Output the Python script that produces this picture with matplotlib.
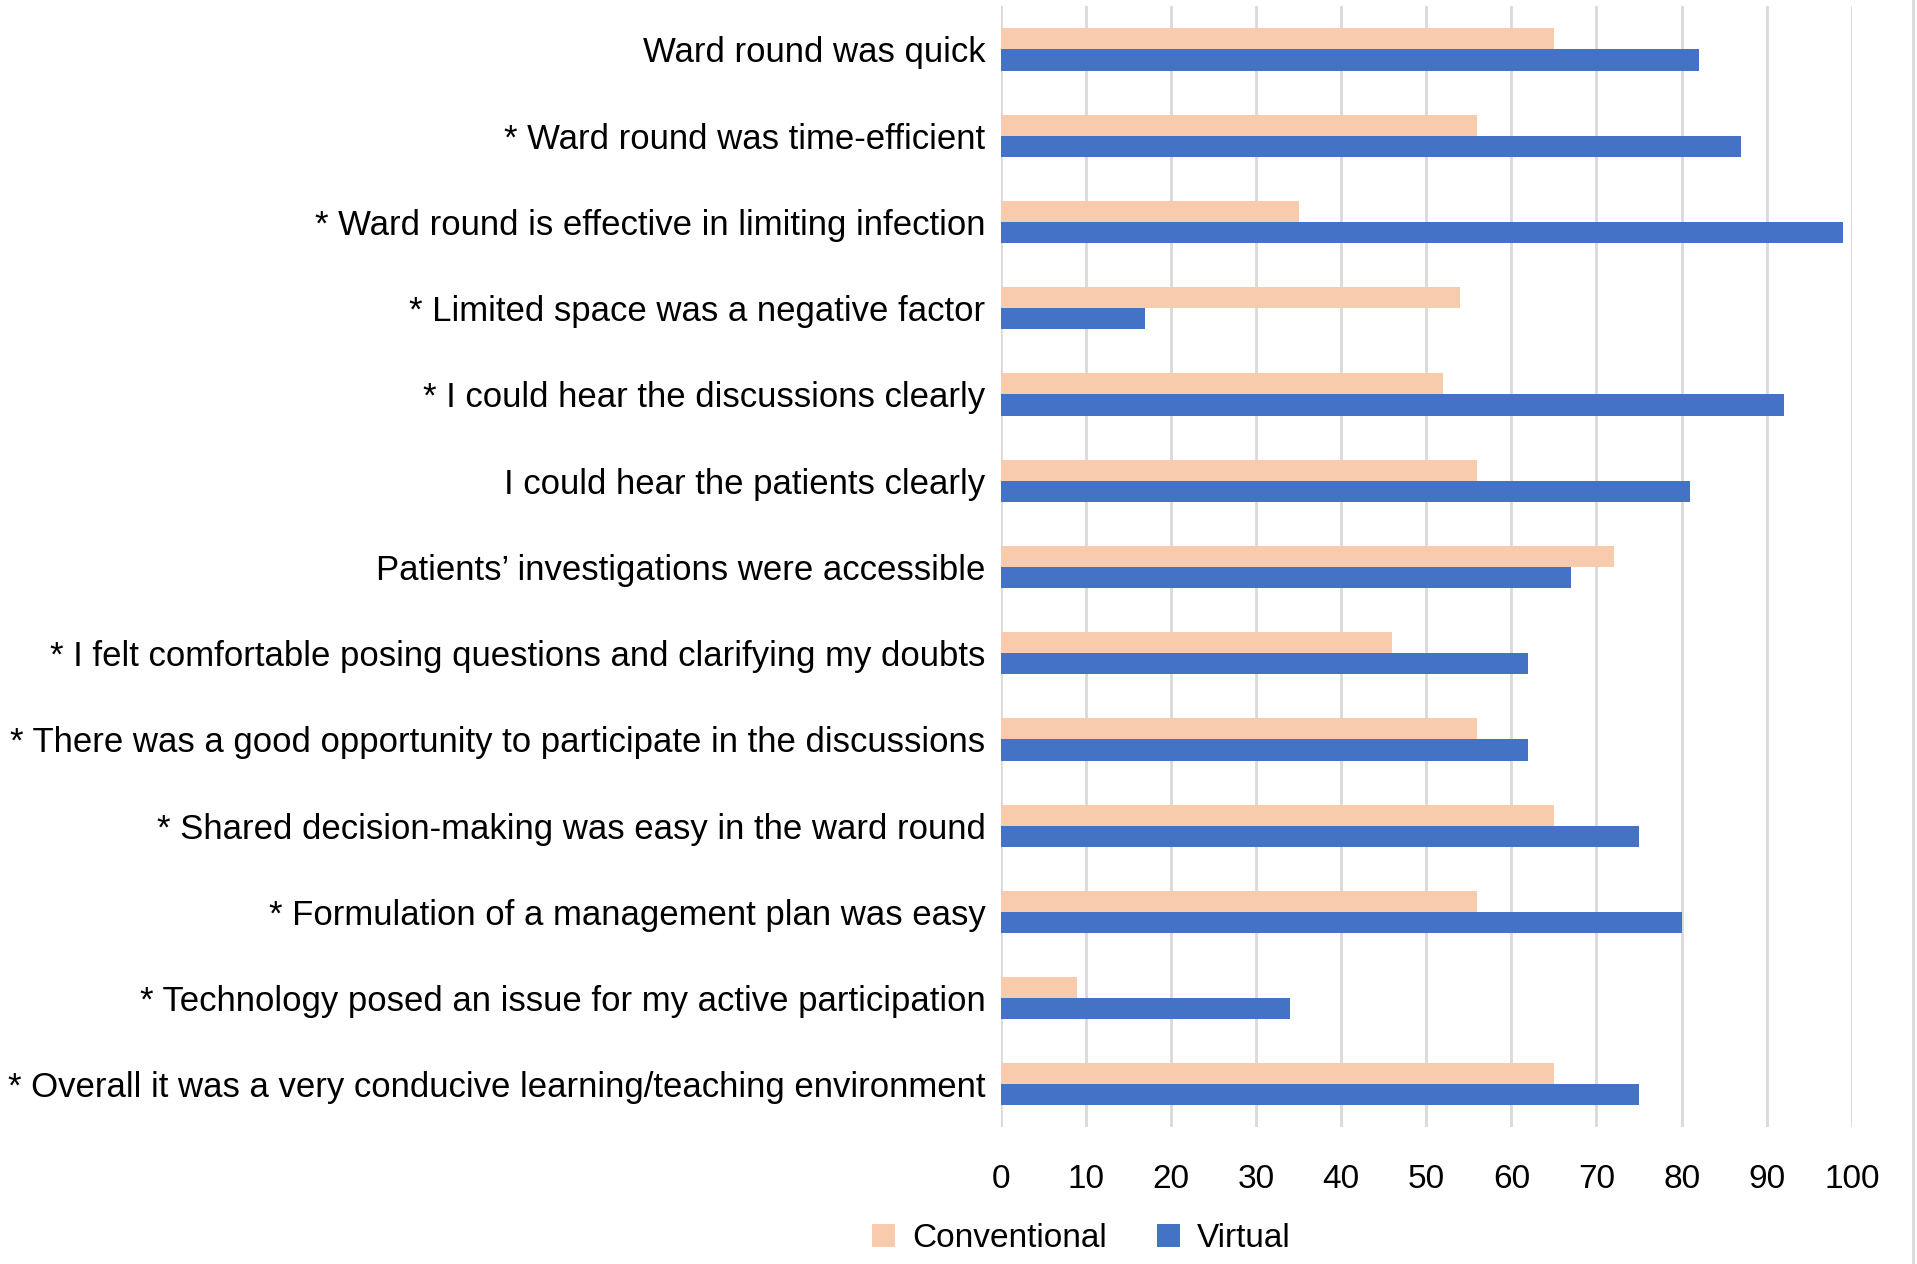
import matplotlib.pyplot as plt
import numpy as np

# survey statements (top to bottom)
statements = [
    "Ward round was quick",
    "* Ward round was time-efficient",
    "* Ward round is effective in limiting infection",
    "* Limited space was a negative factor",
    "* I could hear the discussions clearly",
    "I could hear the patients clearly",
    "Patients\u2019 investigations were accessible",
    "* I felt comfortable posing questions and clarifying my doubts",
    "* There was a good opportunity to participate in the discussions",
    "* Shared decision-making was easy in the ward round",
    "* Formulation of a management plan was easy",
    "* Technology posed an issue for my active participation",
    "* Overall it was a very conducive learning/teaching environment",
]
conventional = [65, 56, 35, 54, 52, 56, 72, 46, 56, 65, 56, 9, 65]
virtual = [82, 87, 99, 17, 92, 81, 67, 62, 62, 75, 80, 34, 75]
x_ticks = [0, 10, 20, 30, 40, 50, 60, 70, 80, 90, 100]

plt.rcParams['font.family'] = ['Liberation Sans', 'DejaVu Sans']

fig = plt.figure(figsize=(19.17, 12.64), dpi=100)
ax = fig.add_axes([0.522, 0.108, 0.444, 0.887])

y = np.arange(len(statements))
h = 0.245
ax.barh(y - h / 2, conventional, height=h, color="#F8CBAD", label="Conventional", zorder=3)
ax.barh(y + h / 2, virtual, height=h, color="#4472C4", label="Virtual", zorder=3)

ax.set_ylim(len(statements) - 0.5, -0.5)
ax.set_xlim(0, 100)
ax.set_yticks(y)
ax.set_yticklabels(statements, fontsize=25, va='center_baseline')
ax.set_xticks(x_ticks)
ax.set_xticklabels([str(t) for t in x_ticks], fontsize=24)
ax.tick_params(axis='both', length=0)
ax.tick_params(axis='y', pad=11)
ax.tick_params(axis='x', pad=26)
ax.grid(axis='x', color="#D9D9D9", linewidth=2, zorder=0)
for s in ax.spines.values():
    s.set_visible(False)

fig.legend(loc='center', bbox_to_anchor=(0.564, 0.02), ncol=2, frameon=False,
           fontsize=24, handlelength=0.7, handleheight=0.7, columnspacing=1.5,
           handletextpad=0.5)

# thin chart border at the right edge
fig.add_artist(plt.Line2D([0.998, 0.998], [0, 1], color="#D9D9D9", linewidth=2))

fig.savefig("out.png", dpi=100)
